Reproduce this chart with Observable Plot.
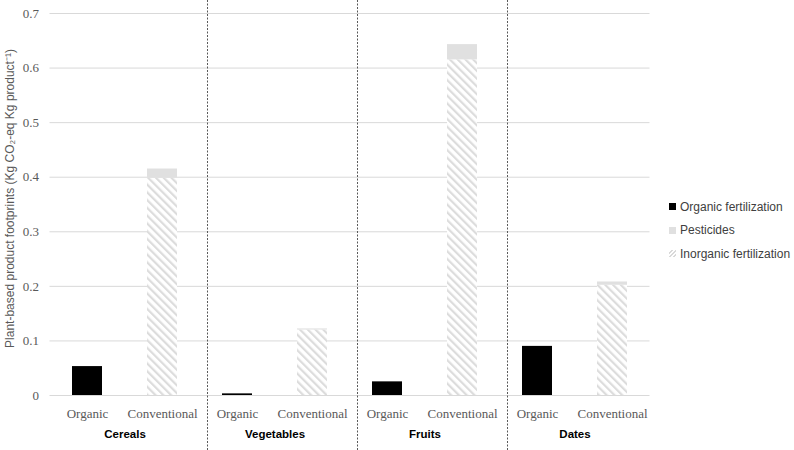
<!DOCTYPE html>
<html>
<head>
<meta charset="utf-8">
<script src="https://cdn.jsdelivr.net/npm/d3@7"></script>
<script src="https://cdn.jsdelivr.net/npm/@observablehq/plot@0.6"></script>
<style>
  html, body { margin: 0; padding: 0; background: #fff; }
  #wrap { position: relative; width: 794px; height: 450px; }
  #legend { position: absolute; left: 669px; top: 195px; font-family: "Liberation Sans", Arial, sans-serif; font-size: 12px; color: #404040; }
  #legend .item { display: flex; align-items: center; height: 23.5px; }
  #legend .sw { width: 7px; height: 7px; margin-right: 4px; }
</style>
</head>
<body>
<svg width="0" height="0" style="position:absolute">
  <defs>
    <pattern id="hatch" patternUnits="userSpaceOnUse" width="5.5" height="5.5" patternTransform="rotate(-45)">
      <rect width="5.5" height="5.5" fill="#ffffff"></rect>
      <rect width="2.2" height="5.5" fill="#dcdcdc"></rect>
    </pattern>
  </defs>
</svg>
<div id="wrap">
  <div id="chart"></div>
  <div id="legend"></div>
</div>
<script>
const groups = ["Cereals", "Vegetables", "Fruits", "Dates"];
const systems = ["Organic", "Conventional"];
const components = ["Organic fertilization", "Pesticides", "Inorganic fertilization"];
const organicFertilization = [0.053, 0.003, 0.025, 0.090];
const inorganicFertilization = [0.398, 0.120, 0.615, 0.202];
const pesticides = [0.017, 0.002, 0.028, 0.006];
const yTicks = [0, 0.1, 0.2, 0.3, 0.4, 0.5, 0.6, 0.7];

const keys = groups.flatMap(g => systems.map(s => g + "|" + s));
const rows = [];
groups.forEach((g, i) => {
  rows.push({key: g + "|Organic", comp: "Organic fertilization", value: organicFertilization[i]});
  rows.push({key: g + "|Conventional", comp: "Inorganic fertilization", value: inorganicFertilization[i]});
  rows.push({key: g + "|Conventional", comp: "Pesticides", value: pesticides[i]});
});
const fills = {"Organic fertilization": "#000000", "Pesticides": "#e0e0e0", "Inorganic fertilization": "url(#hatch)"};

const tickFont = '"Liberation Serif", "Times New Roman", serif';
const sansFont = '"Liberation Sans", Arial, sans-serif';

const chart = Plot.plot({
  width: 794,
  height: 450,
  marginLeft: 49.5,
  marginRight: 144.5,
  marginTop: 13,
  marginBottom: 55,
  style: {fontFamily: tickFont, fontSize: "13px", color: "#595959", background: "#fff"},
  x: {type: "band", domain: keys, paddingInner: 0.6, paddingOuter: 0.3, align: 0.5, axis: null},
  y: {domain: [0, 0.7], axis: null},
  marks: [
    Plot.ruleY(yTicks, {stroke: "#d9d9d9", strokeWidth: 1}),
    Plot.barY(rows, Plot.stackY({x: "key", y: "value", fill: d => fills[d.comp]})),
    Plot.axisY(yTicks, {tickSize: 0, tickPadding: 11, tickFormat: d => d === 0 ? "0" : d.toFixed(1), fontFamily: tickFont, fontSize: 13, fill: "#595959", label: null}),
    Plot.text(["Plant-based product footprints (Kg CO₂-eq Kg product⁻¹)"], {
      frameAnchor: "left", textAnchor: "middle", dx: -40, dy: -6, rotate: -90, fontFamily: sansFont, fontSize: 12, fill: "#595959"
    }),
    Plot.axisX(keys, {tickSize: 0, tickPadding: 13, tickFormat: d => d.split("|")[1], fontFamily: tickFont, fontSize: 13, fill: "#595959", label: null}),
    Plot.text(groups, {x: g => g + "|Organic", dx: 37.5, frameAnchor: "bottom", dy: 42, fontFamily: sansFont, fontWeight: "bold", fontSize: 11.5, fill: "#000"}),
    Plot.ruleX(groups.slice(1), {x: g => g + "|Organic", dx: -30, y1: 0.7238, y2: -0.1008, stroke: "#595959", strokeDasharray: "2,1.5", strokeWidth: 1})
  ]
});
document.getElementById("chart").appendChild(chart);

const legend = document.getElementById("legend");
components.forEach(c => {
  const item = document.createElement("div");
  item.className = "item";
  const sw = document.createElement("div");
  sw.className = "sw";
  if (c === "Inorganic fertilization") {
    sw.style.background = "repeating-linear-gradient(135deg, #ffffff 0 1.5px, #d9d9d9 1.5px 3px)";
  } else {
    sw.style.background = fills[c];
  }
  const t = document.createElement("span");
  t.textContent = c;
  item.appendChild(sw);
  item.appendChild(t);
  legend.appendChild(item);
});
</script>
</body>
</html>
